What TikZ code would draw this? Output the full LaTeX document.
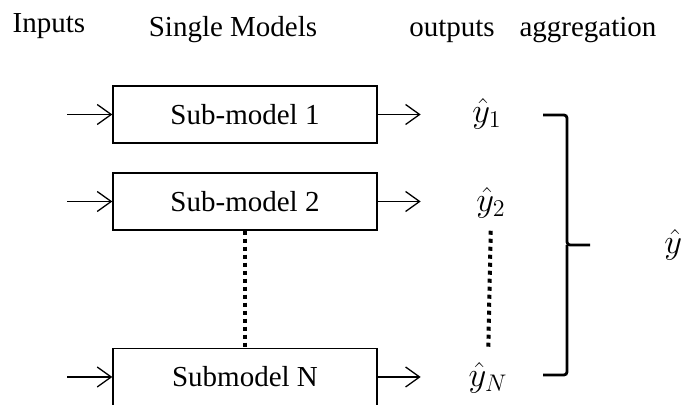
\documentclass[tikz,border=0pt]{standalone}
\usepackage{amsmath,amssymb}
\usepackage{fontspec}
\setmainfont{Liberation Serif}
\usepackage{tikz}
\usetikzlibrary{arrows.meta,positioning}

\begin{document}
\begin{tikzpicture}[x=0.5pt,y=-0.5pt,
  font=\fontsize{14.5}{17}\selectfont,
  model/.style={draw,line width=0.7pt,minimum width=132pt,minimum height=28.5pt,inner sep=0pt},
  outlabel/.style={font=\fontsize{18}{20}\selectfont,inner sep=0pt},
  arr/.style={-{Straight Barb[length=7pt,width=10pt]},line width=0.65pt},
  dots/.style={line width=2pt,dash pattern=on 2pt off 2pt}]
  \useasboundingbox (0,0) rectangle (681,405);
  % column titles
  \node[anchor=base] (tin)  at (49,33)  {Inputs};
  \node[anchor=base] (tmod) at (233,37) {Single Models};
  \node[anchor=base] (tout) at (452,37) {outputs};
  \node[anchor=base] (tagg) at (588,37) {aggregation};
  % single models
  \node[model] (m1) at (245,114.5) {Sub-model 1};
  \node[model] (m2) at (245,201.5) {Sub-model 2};
  \node[model] (mN) at (245,377)   {Submodel N};
  % outputs
  \node[outlabel] (y1) at (487,114) {$\hat{y}_1$};
  \node[outlabel] (y2) at (491,203) {$\hat{y}_2$};
  \node[outlabel] (yN) at (488,378) {$\hat{y}_N$};
  \node[outlabel,anchor=west] (yhat) at (664,245) {$\hat{y}$};
  \foreach \m in {1,2,N} {
    \path (m\m.west) ++(-45,0) coordinate (in\m);
    \path (m\m.east) ++(43,0) coordinate (o\m);
    \draw[arr] (in\m) -- (m\m.west);
    \draw[arr] (m\m.east) -- (o\m);
  }
  \draw[dots] (m2.south) -- (mN.north);
  \draw[dots,shorten <=6pt,shorten >=7pt] (y2.south) -- (yN.north);
  % aggregation bracket
  \coordinate (b1) at (543,115);
  \coordinate (bN) at (543,375);
  \coordinate (bm) at (590,245);
  \draw[line width=1.4pt,rounded corners=1.5pt] (b1) -| (567,245) -- (bm);
  \draw[line width=1.4pt,rounded corners=1.5pt] (bN) -| (567,245);
\end{tikzpicture}
\end{document}
